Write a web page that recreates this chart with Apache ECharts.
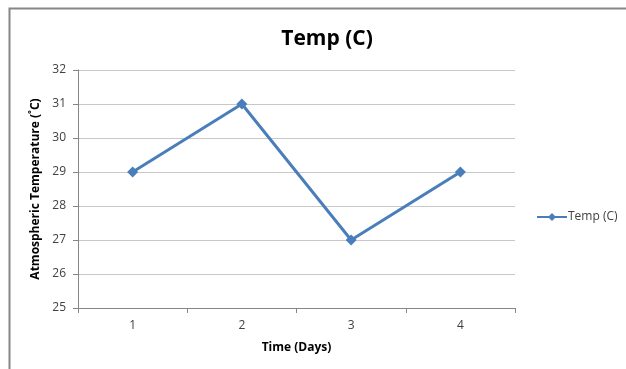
<!DOCTYPE html>
<html>
<head>
<meta charset="utf-8">
<script src="https://cdn.jsdelivr.net/npm/echarts@6/dist/echarts.min.js"></script>
<style>
    html, body { margin: 0; padding: 0; background: #fff; }
    #chart { width: 626px; height: 369px; }
</style>
</head>
<body>
<div id="chart"></div>
<script>
    // dados do grafico
    var days = ['1', '2', '3', '4'];
    var temps = [29, 31, 27, 29];
    var seriesName = 'Temp (C)';

    var myChart = echarts.init(document.getElementById('chart'));

    var option = {
        animation: false,
        textStyle: { fontFamily: '"Open Sans", "Liberation Sans", sans-serif' },
        title: {
            text: 'Temp (C)',
            left: 322,
            top: 24,
            textAlign: 'center',
            textStyle: { fontSize: 21, fontWeight: 'bold', color: '#000' }
        },
        legend: {
            data: [seriesName],
            left: 531,
            top: 206,
            itemWidth: 30,
            itemHeight: 10,
            itemGap: 2,
            textStyle: { fontSize: 12, color: '#404040', padding: [0, 0, 0, -4] }
        },
        grid: { left: 78, right: 111, top: 70, bottom: 61 },
        xAxis: {
            type: 'category',
            data: days,
            boundaryGap: true,
            name: 'Time (Days)',
            nameLocation: 'middle',
            nameGap: 34,
            nameTextStyle: { fontSize: 12, fontWeight: 'bold', color: '#000' },
            axisLine: { lineStyle: { color: '#868686' } },
            axisTick: { show: true, length: 5, lineStyle: { color: '#868686' } },
            axisLabel: { fontSize: 12, color: '#404040', margin: 12 },
            splitLine: { show: false }
        },
        yAxis: {
            type: 'value',
            min: 25,
            max: 32,
            interval: 1,
            name: 'Atmospheric Temperature (˚C)',
            nameLocation: 'middle',
            nameGap: 35,
            nameTextStyle: { fontSize: 12, fontWeight: 'bold', color: '#000' },
            axisLine: { show: true, lineStyle: { color: '#868686' } },
            axisTick: { show: true, length: 5, lineStyle: { color: '#868686' } },
            axisLabel: { fontSize: 12, color: '#404040', margin: 12 },
            splitLine: { lineStyle: { color: '#c8c8c8', width: 1 } }
        },
        series: [{
            name: seriesName,
            type: 'line',
            data: temps,
            symbol: 'diamond',
            symbolSize: 11,
            lineStyle: { color: '#4a7ebb', width: 3 },
            itemStyle: { color: '#4a7ebb' }
        }],
        graphic: [
            // borda do grafico
            {
                type: 'polyline',
                silent: true,
                shape: { points: [[9.5, 369], [9.5, 8.5], [626, 8.5]] },
                style: { stroke: '#868686', lineWidth: 2, fill: null }
            }
        ]
    };

    myChart.setOption(option);
</script>
</body>
</html>
